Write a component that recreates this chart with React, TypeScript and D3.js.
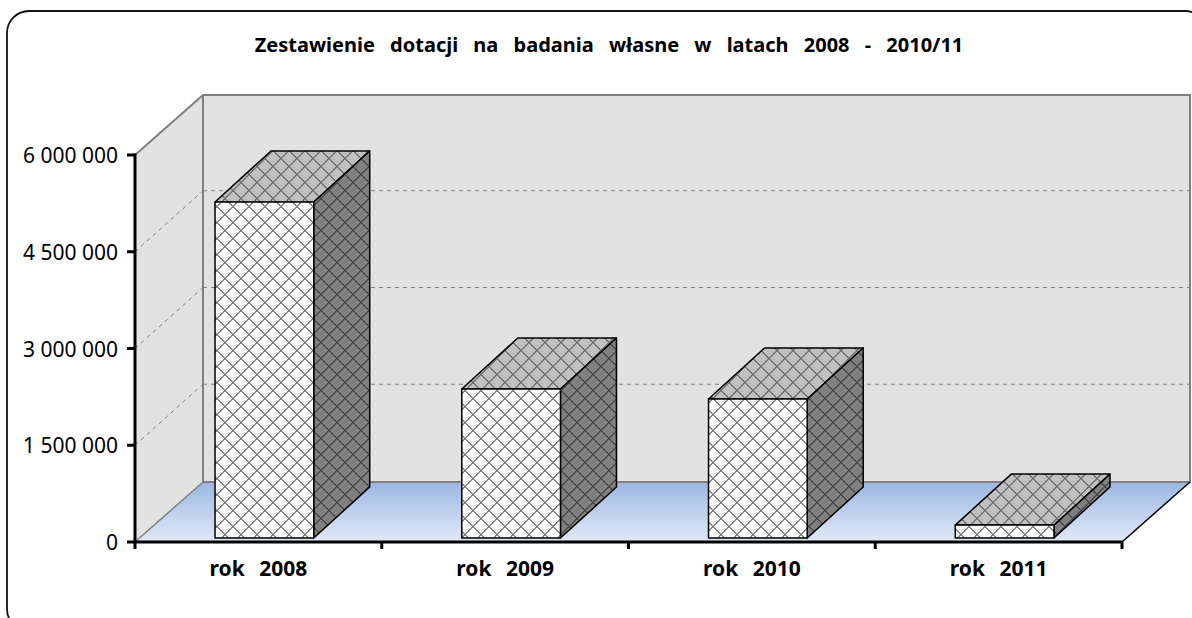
import React from "react";
import * as d3 from "d3";

const title = "Zestawienie dotacji na badania własne w latach 2008 - 2010/11";
const categories = ["rok 2008", "rok 2009", "rok 2010", "rok 2011"];
const values = [5210000, 2310000, 2155000, 200000];
const yTicks = [0, 1500000, 3000000, 4500000, 6000000];
const yTickLabels = ["0", "1 500 000", "3 000 000", "4 500 000", "6 000 000"];

const W = 1192, H = 618;
const x0 = 135, x1 = 1122, yB = 542, yT = 155;
const depthX = 68, depthY = -60;
const barOffX = 6, barOffY = -4, barDX = 56, barDY = -51;

const x = d3.scaleBand<string>().domain(categories).range([x0, x1]).paddingInner(0.6).paddingOuter(0.3);
const xOuter = d3.scaleBand<string>().domain(categories).range([x0, x1]);
const y = d3.scaleLinear().domain([0, 6000000]).range([yB, yT]);
const font = "'Noto Sans', sans-serif";
const pts = (p: number[][]) => p.map((q) => q.join(",")).join(" ");
const steps = d3.range(0, 16, 1);

function Lattice({ id, bg, fg }: { id: string; bg: string; fg: string }) {
  return (
    <pattern id={id} x={9} y={15} width={16} height={16} patternUnits="userSpaceOnUse">
      <rect width={16} height={16} fill={bg} />
      {steps.map((s) => (
        <g key={s} fill={fg}>
          <rect x={s} y={s} width={2} height={1} />
          <rect x={14 - s} y={s} width={2} height={1} />
        </g>
      ))}
    </pattern>
  );
}

export default function App() {
  const bw = x.bandwidth();
  return (
    <svg width={W} height={H} viewBox={`0 0 ${W} ${H}`} style={{ position: "absolute", left: 0, top: 0, display: "block" }}>
      <defs>
        <linearGradient id="floor" x1="0" y1="0" x2="0" y2="1">
          <stop offset="0" stopColor="#9bb7e3" />
          <stop offset="1" stopColor="#e2e9f7" />
        </linearGradient>
        <Lattice id="pFront" bg="#ffffff" fg="#888888" />
        <Lattice id="pTop" bg="#c0c0c0" fg="#747474" />
        <Lattice id="pSide" bg="#808080" fg="#4c4c4c" />
      </defs>
      <rect x={0} y={0} width={W} height={H} fill="#fff" />
      <rect x={7} y={11} width={1200} height={620} rx={22} ry={22} fill="#fff" stroke="#111" strokeWidth={1.8} />

      {/* walls and floor */}
      <polygon points={pts([[x0, yB], [x0 + depthX, yB + depthY], [x1 + depthX, yB + depthY], [x1, yB]])} fill="url(#floor)" />
      <polygon points={pts([[x0, yT], [x0 + depthX, yT + depthY], [x0 + depthX, yB + depthY], [x0, yB]])} fill="#e2e2e2" />
      <rect x={x0 + depthX} y={yT + depthY} width={x1 - x0} height={yB - yT} fill="#e2e2e2" />
      {yTicks.slice(1, -1).map((t) => (
        <g key={t} stroke="#808080" strokeWidth={1} strokeDasharray="4 4" fill="none">
          <line x1={x0} y1={y(t)} x2={x0 + depthX} y2={y(t) + depthY - 1} />
          <line x1={x0 + depthX} y1={y(t) + depthY - 1} x2={x1 + depthX} y2={y(t) + depthY - 1} />
        </g>
      ))}
      <path
        d={`M${x0},${yT}L${x0 + depthX},${yT + depthY}L${x1 + depthX},${yT + depthY}L${x1 + depthX},${yB + depthY}L${x0 + depthX},${yB + depthY}`}
        fill="none" stroke="#808080" strokeWidth={2}
      />
      <line x1={x0 + depthX} y1={yT + depthY} x2={x0 + depthX} y2={yB + depthY} stroke="#808080" strokeWidth={2} />
      <line x1={x0} y1={yB} x2={x0 + depthX} y2={yB + depthY} stroke="#808080" strokeWidth={1.5} />
      <line x1={x1} y1={yB} x2={x1 + depthX} y2={yB + depthY} stroke="#000" strokeWidth={1.5} />

      {/* bars */}
      {categories.map((c, i) => {
        const l = (x(c) as number) + barOffX;
        const r = l + bw;
        const t = y(values[i]) + barOffY;
        const b = y(0) + barOffY;
        return (
          <g key={c} stroke="#000" strokeWidth={1.5} strokeLinejoin="round">
            <polygon points={pts([[l, t], [l + barDX, t + barDY], [r + barDX, t + barDY], [r, t]])} fill="url(#pTop)" />
            <polygon points={pts([[r, t], [r + barDX, t + barDY], [r + barDX, b + barDY], [r, b]])} fill="url(#pSide)" />
            <rect x={l} y={t} width={bw} height={b - t} fill="url(#pFront)" />
          </g>
        );
      })}

      {/* axes */}
      <g stroke="#000" strokeWidth={3}>
        <line x1={x0} y1={yT - 1.5} x2={x0} y2={yB + 7} />
        <line x1={x0 - 1} y1={yB} x2={x1 + 1} y2={yB} />
        {yTicks.map((t) => (
          <line key={t} x1={x0 - 8} y1={y(t)} x2={x0} y2={y(t)} />
        ))}
        {categories.map((c) => {
          const e = (xOuter(c) as number) + xOuter.bandwidth();
          return <line key={c} x1={e} y1={yB} x2={e} y2={yB + 7} />;
        })}
      </g>
      {yTicks.map((t, i) => (
        <text key={t} x={118} y={y(t) + 8} textAnchor="end" fontFamily={font} fontSize={21} fill="#000">
          {yTickLabels[i]}
        </text>
      ))}
      {categories.map((c) => (
        <text key={c} x={(xOuter(c) as number) + xOuter.bandwidth() / 2} y={576} textAnchor="middle"
          fontFamily={font} fontSize={21} fontWeight={700} wordSpacing={9} fill="#000">
          {c}
        </text>
      ))}
      <text x={609} y={52} textAnchor="middle" fontFamily={font} fontSize={20} fontWeight={700} wordSpacing={10} fill="#000">
        {title}
      </text>
    </svg>
  );
}
